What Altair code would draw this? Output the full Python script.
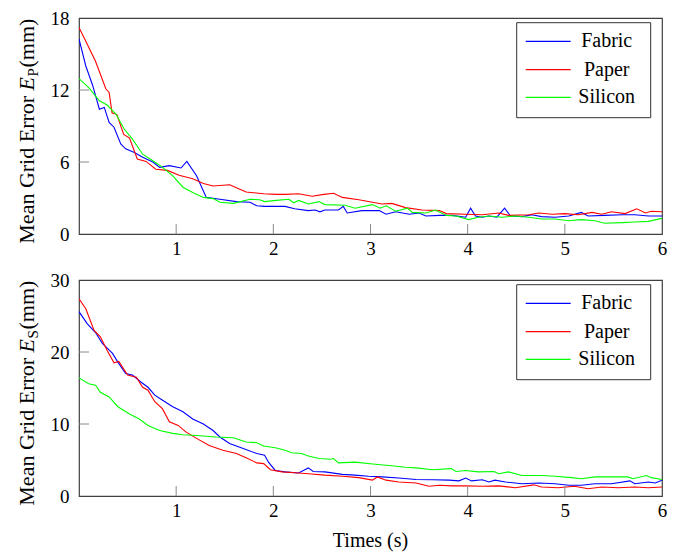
import altair as alt
import pandas as pd

SERIES = ["Fabric", "Paper", "Silicon"]
COLORS = ["#0000ff", "#ff0000", "#00ff00"]
X_TICKS = [1, 2, 3, 4, 5, 6]
YP_TICKS = [0, 6, 12, 18]
YS_TICKS = [0, 10, 20, 30]
X_TITLE = "Times (s)"

# ---- top panel: E_P ----
ep_fabric_t = [0, 0.07, 0.14, 0.21, 0.26, 0.31, 0.36, 0.43, 0.48, 0.57, 0.655, 0.76, 0.83, 0.93, 1.05, 1.11,
               1.21, 1.31, 1.45, 1.62, 1.76, 1.83, 1.91, 2.03, 2.12, 2.22, 2.36, 2.43, 2.48, 2.53, 2.67, 2.72,
               2.76, 2.91, 3.09, 3.16, 3.26, 3.40, 3.5, 3.57, 3.71, 3.84, 3.98, 4.03, 4.08, 4.15, 4.22, 4.3,
               4.38, 4.44, 4.56, 4.66, 4.76, 4.9, 5.04, 5.17, 5.24, 5.41, 5.59, 5.72, 5.86, 6.0]
ep_fabric_v = [16.25, 14.0, 12.4, 10.4, 10.55, 9.3, 8.9, 7.5, 7.1, 6.8, 6.4, 6.0, 5.55, 5.7, 5.5, 6.05,
               4.85, 3.05, 2.9, 2.7, 2.65, 2.35, 2.3, 2.3, 2.3, 2.1, 1.95, 2.0, 1.85, 2.0, 2.0, 2.3,
               1.75, 1.95, 1.95, 1.65, 1.85, 1.65, 1.75, 1.5, 1.55, 1.55, 1.4, 2.15, 1.5, 1.4, 1.5, 1.4,
               2.15, 1.5, 1.45, 1.6, 1.45, 1.4, 1.5, 1.8, 1.5, 1.55, 1.6, 1.6, 1.5, 1.5]

ep_paper_t = [0, 0.08, 0.17, 0.276, 0.31, 0.34, 0.39, 0.46, 0.52, 0.60, 0.69, 0.79, 0.91, 1.03, 1.17, 1.28,
              1.38, 1.55, 1.72, 1.9, 2.03, 2.12, 2.26, 2.4, 2.52, 2.62, 2.71, 2.88, 3.02, 3.12, 3.22, 3.36,
              3.53, 3.71, 3.78, 3.98, 4.15, 4.32, 4.42, 4.63, 4.73, 4.87, 5.0, 5.14, 5.28, 5.38, 5.48, 5.62,
              5.74, 5.83, 5.89, 6.0]
ep_paper_v = [17.2, 15.9, 14.4, 12.1, 11.8, 10.1, 9.95, 8.3, 8.0, 6.25, 6.05, 5.4, 5.3, 4.9, 4.6, 4.2,
              4.0, 4.1, 3.5, 3.35, 3.3, 3.3, 3.35, 3.15, 3.3, 3.4, 3.05, 2.85, 2.65, 2.5, 2.55, 2.2,
              2.0, 1.95, 1.7, 1.65, 1.6, 1.75, 1.55, 1.6, 1.75, 1.65, 1.7, 1.6, 1.8, 1.65, 1.85, 1.7,
              2.1, 1.75, 1.9, 1.85]

ep_silicon_t = [0, 0.10, 0.21, 0.29, 0.38, 0.465, 0.55, 0.655, 0.76, 0.86, 0.965, 1.07, 1.17, 1.28, 1.38,
                1.45, 1.59, 1.76, 1.86, 1.91, 2.03, 2.16, 2.21, 2.26, 2.36, 2.47, 2.53, 2.74, 2.84, 3.02,
                3.1, 3.16, 3.26, 3.38, 3.43, 3.57, 3.67, 3.78, 3.88, 4.01, 4.11, 4.22, 4.35, 4.49, 4.63,
                4.76, 4.9, 5.04, 5.17, 5.31, 5.41, 5.59, 5.72, 5.86, 6.0]
ep_silicon_v = [12.95, 12.2, 11.1, 10.75, 10.0, 8.75, 7.9, 6.65, 6.1, 5.55, 4.85, 3.9, 3.45, 3.05, 2.95,
                2.65, 2.55, 2.9, 2.85, 2.7, 2.8, 2.9, 2.6, 2.8, 2.5, 2.7, 2.45, 2.4, 2.15, 2.45,
                2.15, 2.35, 1.9, 2.15, 1.8, 1.75, 2.0, 1.55, 1.5, 1.2, 1.4, 1.5, 1.4, 1.5, 1.4,
                1.25, 1.25, 1.1, 1.2, 1.1, 0.9, 0.95, 1.0, 1.05, 1.3]

# ---- bottom panel: E_S ----
es_fabric_t = [0, 0.086, 0.17, 0.24, 0.345, 0.4, 0.48, 0.55, 0.64, 0.71, 0.78, 0.86, 0.965, 1.07, 1.17,
               1.28, 1.38, 1.45, 1.55, 1.69, 1.83, 1.91, 1.95, 2.02, 2.12, 2.26, 2.36, 2.41, 2.53, 2.71,
               2.84, 2.98, 3.12, 3.29, 3.47, 3.64, 3.81, 3.91, 3.98, 4.04, 4.15, 4.22, 4.28, 4.39, 4.56,
               4.73, 4.9, 5.04, 5.17, 5.31, 5.48, 5.67, 5.72, 5.86, 5.93, 6.0]
es_fabric_v = [25.6, 23.9, 22.7, 21.2, 19.8, 18.6, 17.0, 16.8, 15.8, 15.1, 14.0, 13.3, 12.4, 11.7, 10.7,
               10.0, 9.1, 8.2, 7.3, 6.6, 5.9, 5.65, 4.7, 3.55, 3.35, 3.2, 3.9, 3.4, 3.35, 3.0,
               2.9, 2.75, 2.65, 2.5, 2.3, 2.25, 2.2, 2.1, 2.5, 2.1, 2.25, 1.95, 2.2, 1.95, 1.7,
               1.8, 1.7, 1.5, 1.5, 1.7, 1.7, 2.1, 1.7, 1.95, 1.8, 2.2]

es_paper_t = [0, 0.07, 0.155, 0.22, 0.29, 0.36, 0.41, 0.5, 0.59, 0.655, 0.71, 0.78, 0.86, 0.93, 1.02,
              1.1, 1.21, 1.34, 1.48, 1.62, 1.72, 1.83, 1.9, 1.97, 2.09, 2.26, 2.36, 2.53, 2.71, 2.88,
              3.02, 3.07, 3.16, 3.29, 3.47, 3.6, 3.71, 3.84, 3.98, 4.15, 4.32, 4.49, 4.68, 4.76, 4.93,
              5.1, 5.24, 5.38, 5.55, 5.72, 5.86, 6.0]
es_paper_v = [27.4, 26.0, 23.0, 22.1, 20.2, 18.5, 18.7, 16.8, 16.5, 15.1, 14.7, 13.1, 12.1, 10.3, 9.8,
              8.9, 8.0, 7.0, 6.35, 5.9, 5.3, 4.6, 4.5, 3.65, 3.35, 3.2, 3.1, 2.9, 2.75, 2.55,
              2.2, 2.65, 2.2, 1.95, 1.8, 1.35, 1.5, 1.4, 1.4, 1.35, 1.4, 1.15, 1.55, 1.25, 1.15,
              1.35, 1.0, 1.25, 1.15, 1.25, 1.15, 1.25]

es_silicon_t = [0, 0.1, 0.17, 0.22, 0.31, 0.4, 0.52, 0.62, 0.71, 0.83, 0.965, 1.07, 1.21, 1.41, 1.59,
                1.72, 1.83, 1.9, 2.02, 2.12, 2.19, 2.29, 2.36, 2.47, 2.59, 2.62, 2.67, 2.84, 3.05, 3.22,
                3.36, 3.47, 3.64, 3.83, 3.88, 3.98, 4.11, 4.27, 4.32, 4.42, 4.56, 4.76, 4.9, 5.07, 5.17,
                5.31, 5.48, 5.65, 5.7, 5.84, 5.89, 6.0]
es_silicon_v = [16.4, 15.6, 15.4, 14.4, 13.75, 12.4, 11.4, 10.7, 9.8, 9.1, 8.7, 8.5, 8.4, 8.2, 8.1,
                7.5, 7.4, 6.95, 6.7, 6.35, 6.0, 5.9, 5.55, 5.2, 5.1, 5.2, 4.6, 4.7, 4.4, 4.2,
                4.0, 3.9, 3.65, 3.8, 3.4, 3.55, 3.35, 3.4, 3.1, 3.35, 2.85, 2.85, 2.75, 2.55, 2.4,
                2.65, 2.65, 2.65, 2.4, 2.85, 2.55, 2.3]

FONT = "Liberation Serif"
W, H = 583, 216


def long_df(ts, vs):
    rows = []
    for s, tt, vv in zip(SERIES, ts, vs):
        for a, b in zip(tt, vv):
            rows.append({"s": s, "t": a, "v": b})
    return pd.DataFrame(rows)


def panel(df, ymax, yticks, sub):
    xs = alt.X("t:Q", scale=alt.Scale(domain=[0, 6], nice=False, zero=False),
               axis=alt.Axis(values=X_TICKS, title=None, grid=False, domain=False, ticks=False,
                             tickSize=0, labelPadding=5, labelFont=FONT, labelFontSize=19,
                             labelColor="black", format="d", labelFlush=False))
    ys = alt.Y("v:Q", scale=alt.Scale(domain=[0, ymax], nice=False),
               axis=alt.Axis(values=yticks, title=None, grid=False, domain=False, ticks=False,
                             tickSize=0, labelPadding=10, labelFont=FONT, labelFontSize=19,
                             labelColor="black", format="d", labelFlush=False))
    lines = alt.Chart(df).mark_line(strokeWidth=1.1, clip=True).encode(
        x=xs, y=ys,
        color=alt.Color("s:N", scale=alt.Scale(domain=SERIES, range=COLORS), legend=None),
    )
    xt = alt.Chart(pd.DataFrame({"t": X_TICKS[:-1]})).mark_rule(color="#8a8a8a", strokeWidth=1).encode(
        x=xs, y=alt.value(H), y2=alt.value(H - 10))
    yt = alt.Chart(pd.DataFrame({"v": yticks[1:-1]})).mark_rule(color="#8a8a8a", strokeWidth=1).encode(
        y=ys, x=alt.value(0), x2=alt.value(10))

    def txt(s, x, y, size=22, style="normal"):
        return alt.Chart(pd.DataFrame({"s": [s]})).mark_text(
            angle=270, align="left", baseline="alphabetic", font=FONT, fontSize=size,
            fontStyle=style, color="black").encode(text="s:N", x=alt.value(x), y=alt.value(y))

    t1 = txt("Mean Grid Error", -45, 225.7)
    t2 = txt("E", -45, 72.4, style="italic")
    t3 = txt(sub, -41, 58.5, size=15)
    t4 = txt("(mm)", -45, 49.5)

    box = alt.Chart(pd.DataFrame({"a": [0]})).mark_rect(fill="white", stroke="#333333", strokeWidth=1).encode(
        x=alt.value(437.7), x2=alt.value(571.7), y=alt.value(4.7), y2=alt.value(99.7))
    layers = [lines, xt, yt, t1, t2, t3, t4, box]
    rows_y = [23.4, 51.7, 79.4]
    for name, col, ry in zip(SERIES, COLORS, rows_y):
        layers.append(alt.Chart(pd.DataFrame({"s": [name]})).mark_rule(color=col, strokeWidth=1.2).encode(
            x=alt.value(446.7), x2=alt.value(491.7), y=alt.value(ry)))
        layers.append(alt.Chart(pd.DataFrame({"s": [name]})).mark_text(
            align="center", baseline="middle", font=FONT, fontSize=20, color="black").encode(
            text="s:N", x=alt.value(527.7), y=alt.value(ry)))
    return alt.layer(*layers).properties(width=W, height=H)


top = panel(long_df([ep_fabric_t, ep_paper_t, ep_silicon_t], [ep_fabric_v, ep_paper_v, ep_silicon_v]),
            18, YP_TICKS, "P")
bottom_core = panel(long_df([es_fabric_t, es_paper_t, es_silicon_t], [es_fabric_v, es_paper_v, es_silicon_v]),
                    30, YS_TICKS, "S")
xtitle = alt.Chart(pd.DataFrame({"s": [X_TITLE]})).mark_text(
    align="center", baseline="alphabetic", font=FONT, fontSize=20, color="black").encode(
    text="s:N", x=alt.value(W / 2), y=alt.value(H + 51))
bottom = alt.layer(bottom_core, xtitle)

chart = alt.vconcat(top, bottom, spacing=11).properties(
    padding={"left": 7, "top": 0, "right": 5, "bottom": 5}, background="white"
).configure_view(stroke="#404040", strokeWidth=1.2)

chart.save("out.html", embed_options={"renderer": "svg", "actions": False})
